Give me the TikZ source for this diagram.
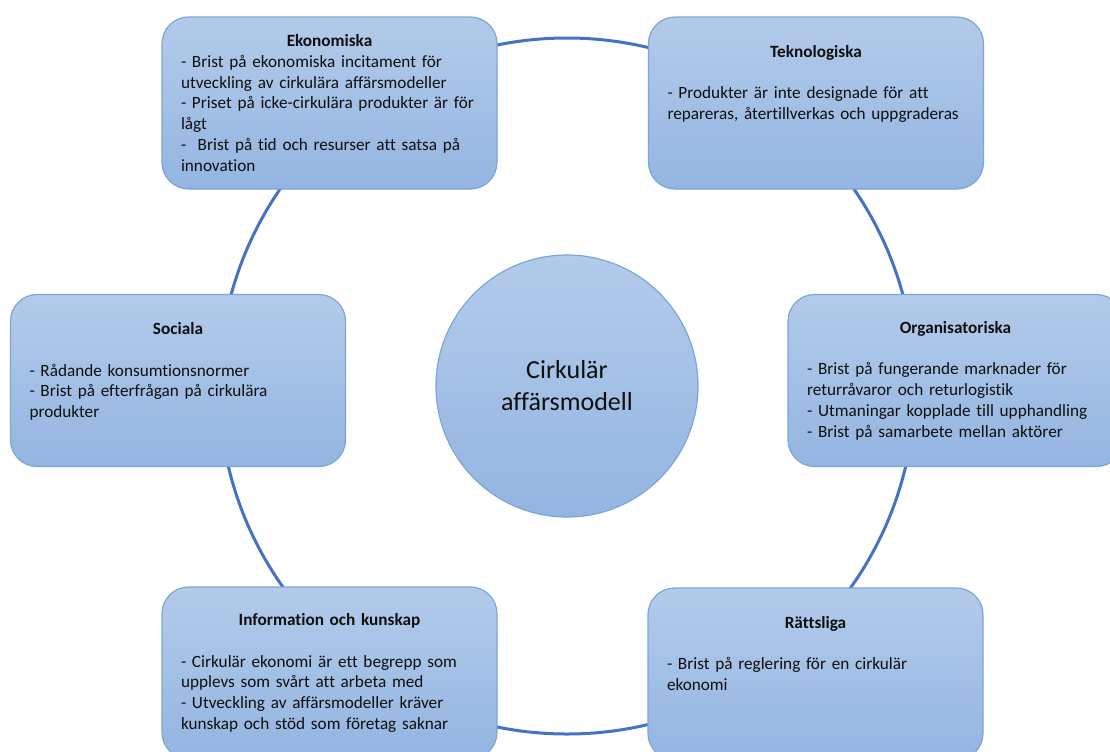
\documentclass[tikz,border=0pt]{standalone}
\usepackage{fontspec}
\setmainfont{Carlito}[Ligatures={NoCommon}]
\definecolor{boxtop}{HTML}{B3CBEA}
\definecolor{boxbottom}{HTML}{93B5E1}
\definecolor{boxline}{HTML}{7DA5D8}
\definecolor{ringline}{HTML}{4472C4}
\definecolor{boxtext}{HTML}{0F0F0F}
\newcommand{\boxwidth}{251.25pt}
\newcommand{\boxheight}{129pt}
\newcommand{\gap}{15.6pt}
\newcommand{\boxtitle}[1]{\makebox[\linewidth][c]{\bfseries #1}}
\tikzstyle{barrier}=[draw=boxline, line width=0.9pt, rounded corners=20pt,
                     top color=boxtop, bottom color=boxbottom,
                     minimum width=\boxwidth, minimum height=\boxheight,
                     inner xsep=14.25pt, inner ysep=0pt, text width=222.75pt,
                     align=left, text=boxtext,
                     font=\fontsize{12.9pt}{15.6pt}\selectfont]
\tikzstyle{hub}=[circle, draw=boxline, line width=0.9pt,
                 top color=boxtop, bottom color=boxbottom,
                 minimum size=196.5pt, inner sep=0, align=center, text=boxtext,
                 font=\fontsize{19.5pt}{24pt}\selectfont]
\tikzstyle{ring}=[draw=ringline, line width=2.25pt]

\begin{document}
\begin{tikzpicture}[x=0.75pt, y=-0.75pt]
    \useasboundingbox[fill=white] (0, 0) rectangle (1110, 751);
    \clip (0, 0) rectangle (1110, 751);
    \coordinate (mid) at (567, 386);
    % ring behind all boxes
    \draw[ring] (mid) circle[radius=261pt];
    \node[hub] (hub) at (mid) {Cirkulär\\affärsmodell};
    \node[barrier] (eko) at (329.5, 103) {\boxtitle{Ekonomiska}\\
        - Brist på ekonomiska incitament för\\
        utveckling av cirkulära affärsmodeller\\
        - Priset på icke-cirkulära produkter är för\\
        lågt\\
        - \ Brist på tid och resurser att satsa på\\
        innovation};
    \node[barrier] (tek) at (816, 103) {\boxtitle{Teknologiska}\\[\gap]
        - Produkter är inte designade för att\\
        repareras, återtillverkas och uppgraderas\\[\gap]\mbox{}};
    \node[barrier] (soc) at (178, 380.5) {\boxtitle{Sociala}\\[\gap]
        - Rådande konsumtionsnormer\\
        - Brist på efterfrågan på cirkulära\\
        produkter\\ \mbox{}};
    \node[barrier] (org) at (955.5, 380.5) {\boxtitle{Organisatoriska}\\[\gap]
        - Brist på fungerande marknader för\\
        returråvaror och returlogistik\\
        - Utmaningar kopplade till upphandling\\
        - Brist på samarbete mellan aktörer};
    \node[barrier] (info) at (329.5, 673) {\boxtitle{Information och kunskap}\\[\gap]
        - Cirkulär ekonomi är ett begrepp som\\
        upplevs som svårt att arbeta med\\
        - Utveckling av affärsmodeller kräver\\
        kunskap och stöd som företag saknar};
    \node[barrier] (ratt) at (815.5, 674) {\boxtitle{Rättsliga}\\[\gap]
        - Brist på reglering för en cirkulär\\
        ekonomi\\[\gap]\mbox{}};
\end{tikzpicture}
\end{document}
